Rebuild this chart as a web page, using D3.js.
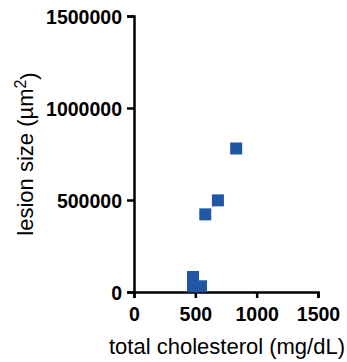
<!DOCTYPE html>
<html>
<head>
<meta charset="utf-8">
<script src="https://cdn.jsdelivr.net/npm/d3@7"></script>
<style>
  body { margin: 0; background: #fff; }
  svg { display: block; }
  .tick text { font-family: "Liberation Sans", Arial, sans-serif; font-weight: bold; font-size: 19.5px; fill: #000; }
  .title { font-family: "Liberation Sans", Arial, sans-serif; font-size: 22px; fill: #000; }
</style>
</head>
<body>
<svg id="chart" width="347" height="362"></svg>
<script>
// values
var cholesterol = [833, 684, 581, 481, 481, 546];
var lesionSize = [780000, 498000, 422000, 81500, 31000, 31000];
var xTicks = [0, 500, 1000, 1500];
var yTicks = [0, 500000, 1000000, 1500000];

var svg = d3.select("#chart"),
    plotL = 134, plotR = 318, plotT = 16, plotB = 292;

var x = d3.scaleLinear().domain([0, 1500]).range([plotL, plotR]);
var y = d3.scaleLinear().domain([0, 1500000]).range([plotB, plotT]);

var xAxis = svg.append("g")
    .attr("transform", "translate(0," + plotB + ")")
    .call(d3.axisBottom(x).tickValues(xTicks).tickFormat(d3.format("d")).tickSizeOuter(0).tickSize(6).tickPadding(9));

var yAxis = svg.append("g")
    .attr("transform", "translate(" + plotL + ",0)")
    .call(d3.axisLeft(y).tickValues(yTicks).tickFormat(d3.format("d")).tickSizeOuter(0).tickSize(7).tickPadding(5));

svg.selectAll(".domain").attr("stroke", "#000").attr("stroke-width", 2.5);
svg.selectAll(".tick line").attr("stroke", "#000").attr("stroke-width", 2.5);
xAxis.selectAll(".tick text").attr("dy", "0.71em");
yAxis.selectAll(".tick text").attr("dy", "0.36em");

var s = 12;
svg.append("g").selectAll("rect")
    .data(cholesterol)
    .enter().append("rect")
      .attr("x", function(d) { return x(d) - s / 2; })
      .attr("y", function(d, i) { return y(lesionSize[i]) - s / 2; })
      .attr("width", s)
      .attr("height", s)
      .attr("fill", "#2156a5");

svg.append("text")
    .attr("class", "title")
    .attr("x", 227)
    .attr("y", 354)
    .attr("text-anchor", "middle")
    .text("total cholesterol (mg/dL)");

var yt = svg.append("text")
    .attr("class", "title")
    .attr("transform", "translate(33," + ((plotT + plotB) / 2) + ") rotate(-90)")
    .attr("text-anchor", "middle");
yt.append("tspan").text("lesion size (µm");
yt.append("tspan").attr("dy", "-0.45em").attr("font-size", "16px").text("2");
yt.append("tspan").attr("dy", "0.45em").text(")");
</script>
</body>
</html>
